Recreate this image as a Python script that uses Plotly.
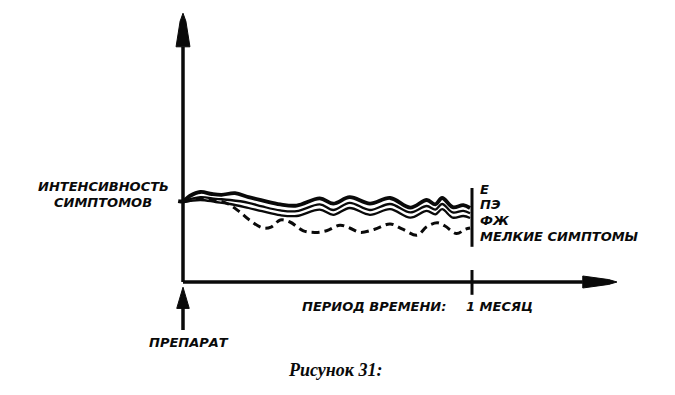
import plotly.graph_objects as go

# ---------------- data ----------------
# time in days (0 = drug taken, 30 = one month); intensity in arbitrary units
e_days = [-0.5, 0, 0.7, 1.8, 3.0, 4.0, 5.4, 6.8, 8.2, 10.1, 11.8, 14.2, 15.6, 17.3,
          19.4, 21.5, 23.6, 25.3, 26.2, 26.9, 28.0, 29.1, 29.8]
e_vals = [10.1, 10.1, 10.75, 11.25, 11.0, 10.9, 11.1, 10.6, 10.2, 9.7, 9.55, 10.45, 9.8, 10.6,
          9.8, 10.5, 9.3, 10.25, 9.7, 10.5, 9.35, 9.6, 9.25]

pe_days = [0, 1.8, 3.4, 4.9, 6.8, 8.2, 10.1, 11.8, 14.2, 15.6, 17.3, 19.4, 21.5, 23.6,
           25.3, 26.2, 26.9, 28.0, 29.1, 29.8]
pe_vals = [10.1, 10.6, 10.4, 10.25, 9.9, 9.45, 8.95, 8.85, 9.7, 9.0, 9.9, 9.0, 9.75, 8.7,
           9.5, 9.05, 9.75, 8.7, 8.9, 8.6]

fzh_days = [0, 1.8, 3.4, 4.9, 6.8, 8.2, 10.1, 11.8, 14.2, 15.6, 17.3, 19.4, 21.5, 23.6,
            25.3, 26.2, 26.9, 28.0, 29.1, 29.8]
fzh_vals = [10.0, 10.25, 10.0, 9.75, 9.25, 8.85, 8.35, 8.25, 9.05, 8.4, 9.25, 8.4, 9.1, 8.05,
            8.9, 8.45, 9.1, 8.05, 8.25, 8.0]

minor_days = [0, 1.8, 3.3, 4.7, 5.9, 6.9, 8.3, 9.2, 10.1, 11.1, 12.5, 13.7, 14.9, 16.3,
              17.3, 18.4, 19.9, 21.5, 22.8, 24.3, 25.3, 26.4, 27.2, 28.4, 29.3, 29.8]
minor_vals = [10.0, 10.4, 10.25, 9.75, 8.75, 7.75, 6.75, 6.9, 7.75, 7.5, 6.4, 6.2, 6.4, 7.1,
              6.75, 6.2, 6.6, 7.25, 6.6, 5.85, 6.9, 7.4, 7.0, 6.05, 6.6, 6.75]

series_labels = ["Е", "ПЭ", "ФЖ", "МЕЛКИЕ СИМПТОМЫ"]
label_levels = [11.6, 9.75, 7.75, 5.75]

# ---------------- layout constants ----------------
W, H = 675, 395
PX_PER_DAY = 289 / 30.0
PX_PER_UNIT = 8.0
X0_PX, Y0_PX = 183, 282
x_range = [-X0_PX / PX_PER_DAY, (W - X0_PX) / PX_PER_DAY]
y_range = [(Y0_PX - H) / PX_PER_UNIT, Y0_PX / PX_PER_UNIT]

MONTH = 30
Y_TIP = 33.6      # vertical axis arrow tip
Y_HEAD = 29.4
X_TIP = 45.05     # horizontal axis arrow tip
X_HEAD = 41.5

BLACK = "#0a0a0a"
SANS = "DejaVu Sans, Verdana, sans-serif"
SERIF = "Liberation Serif, Times New Roman, serif"

fig = go.Figure()

def line(xs, ys, width, dash=None, shape="linear"):
    fig.add_trace(go.Scatter(x=xs, y=ys, mode="lines", hoverinfo="skip", showlegend=False,
                             line=dict(color=BLACK, width=width, dash=dash, shape=shape,
                                       smoothing=1.0)))

def head(xs, ys):
    fig.add_trace(go.Scatter(x=xs, y=ys, mode="lines", fill="toself", fillcolor=BLACK,
                             hoverinfo="skip", showlegend=False,
                             line=dict(color=BLACK, width=1)))

# axes
line([0, 0], [0, Y_HEAD], 3.5)
head([-0.72, 0.72, 0.3, 0, -0.3, -0.72], [Y_HEAD, Y_HEAD, 32.6, Y_TIP, 32.6, Y_HEAD])
line([0, X_HEAD], [0, 0], 3.5)
head([X_HEAD, X_HEAD, 44.2, X_TIP, 44.2, X_HEAD], [0.75, -0.75, -0.3, 0, 0.3, 0.75])
# month tick
line([MONTH, MONTH], [1.5, -1.6], 3)
# drug arrow
line([0, 0], [-6.0, -3.2], 3.5)
head([-0.65, 0.65, 0, -0.65], [-3.3, -3.3, -0.65, -3.3])
# end bar
line([MONTH, MONTH], [11.75, 4.4], 3)

# curves
line(minor_days, minor_vals, 3, dash="8px,5px", shape="spline")
line(fzh_days, fzh_vals, 2.3, shape="spline")
line(pe_days, pe_vals, 2.3, shape="spline")
line(e_days, e_vals, 3.8, shape="spline")

def txt(x, y, s, anchor="left", size=13, family=SANS):
    fig.add_annotation(x=x, y=y, text=s, showarrow=False, xanchor=anchor, yanchor="middle",
                       font=dict(family=family, size=size, color=BLACK))

for lab, lev in zip(series_labels, label_levels):
    txt(30.65, lev, "<b><i>%s</i></b>" % lab, size=13)

txt(-8.3, 11.9, "<b><i>ИНТЕНСИВНОСТЬ</i></b>", anchor="center", size=13)
txt(-8.3, 10.0, "<b><i>СИМПТОМОВ</i></b>", anchor="center", size=13)
txt(19.8, -3.0, "<b><i>ПЕРИОД ВРЕМЕНИ:</i></b>", anchor="center", size=13)
txt(29.2, -3.0, "<b><i>1 МЕСЯЦ</i></b>", anchor="left", size=13)
txt(0.6, -7.5, "<b><i>ПРЕПАРАТ</i></b>", anchor="center", size=13)
txt(15.8, -11.0, "<b><i>Рисунок 31:</i></b>", anchor="center", size=18, family=SERIF)

fig.update_layout(
    width=W, height=H, margin=dict(l=0, r=0, t=0, b=0),
    paper_bgcolor="white", plot_bgcolor="white",
    xaxis=dict(range=x_range, visible=False, fixedrange=True),
    yaxis=dict(range=y_range, visible=False, fixedrange=True),
)

fig.write_html("out.html", config={"displayModeBar": False},
               post_script="document.body.style.margin='0';")
